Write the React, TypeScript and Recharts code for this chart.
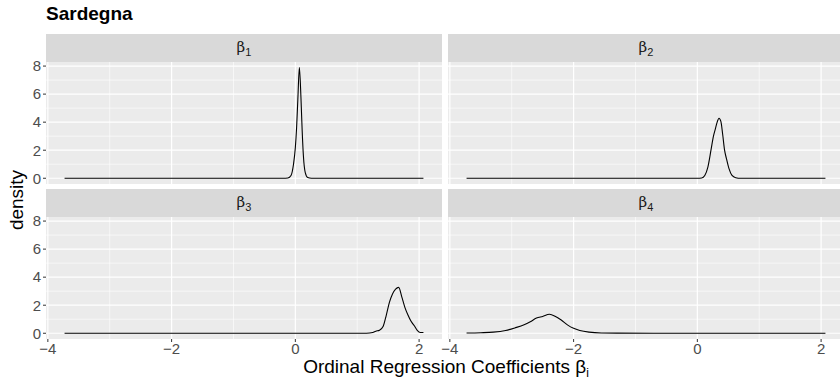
import React from "react";
import { LineChart, Line, XAxis, YAxis, CartesianGrid } from "recharts";

// density estimates of the four ordinal regression coefficients (Sardegna)
const beta1X = [-3.73, -1.0, -0.2, -0.12, -0.07, -0.03, 0.0, 0.02, 0.04, 0.065, 0.09, 0.11, 0.13, 0.16, 0.2, 0.26, 1.0, 2.07];
const beta1Y = [0, 0, 0, 0.02, 0.2, 1.0, 2.2, 3.6, 5.6, 7.9, 5.8, 3.4, 1.6, 0.4, 0.05, 0, 0, 0];

const beta2X = [-3.73, -1.0, 0.0, 0.07, 0.12, 0.17, 0.22, 0.26, 0.29, 0.32, 0.35, 0.38, 0.41, 0.44, 0.47, 0.51, 0.56, 0.62, 0.7, 1.5, 2.07];
const beta2Y = [0, 0, 0, 0.02, 0.2, 0.8, 2.0, 3.0, 3.5, 4.0, 4.28, 4.05, 3.1, 2.0, 1.4, 0.7, 0.2, 0.04, 0, 0, 0];

const beta3X = [-3.73, -1.0, 0.5, 1.15, 1.25, 1.3, 1.36, 1.42, 1.47, 1.52, 1.57, 1.62, 1.67, 1.72, 1.77, 1.82, 1.87, 1.92, 1.97, 2.02, 2.07];
const beta3Y = [0, 0, 0, 0, 0.05, 0.15, 0.22, 0.5, 1.3, 2.2, 2.8, 3.15, 3.27, 2.6, 1.85, 1.3, 0.85, 0.55, 0.2, 0.05, 0.05];

const beta4X = [-3.73, -3.5, -3.3, -3.1, -2.95, -2.8, -2.7, -2.6, -2.5, -2.39, -2.3, -2.2, -2.1, -2.0, -1.9, -1.75, -1.55, -1.3, 0.0, 2.07];
const beta4Y = [0.02, 0.04, 0.08, 0.2, 0.38, 0.6, 0.82, 1.08, 1.2, 1.35, 1.22, 0.95, 0.6, 0.35, 0.2, 0.08, 0.02, 0.01, 0, 0];

const xTicks = [-4, -2, 0, 2];
const yTicks = [0, 2, 4, 6, 8];
const xMinor = [-3, -1, 1];
const yMinor = [1, 3, 5, 7];

const X_DOMAIN: [number, number] = [-4.03, 2.37];
const Y_DOMAIN: [number, number] = [-0.41, 8.29];

const FONT = "'Liberation Sans', Arial, sans-serif";
const PANEL_W = 396;
const PANEL_H = 122;
const AXIS_W = 46;
const X_AXIS_H = 26;
const PAD = 10; // room for tick labels that sit on the panel edge

const toRows = (xs: number[], ys: number[]) => xs.map((x, i) => ({ x, y: ys[i] }));

const fmt = (v: number) => (v < 0 ? "\u2212" + Math.abs(v) : String(v));

type PanelProps = {
  data: { x: number; y: number }[];
  showX: boolean;
  showY: boolean;
};

function Panel({ data, showX, showY }: PanelProps) {
  const tickStyle = { fill: "#4D4D4D", fontSize: 15, fontFamily: FONT };
  const left = showY ? 0 : PAD;
  return (
    <LineChart
      width={PANEL_W + (showY ? AXIS_W : 0) + PAD + left}
      height={PANEL_H + (showX ? X_AXIS_H : 0) + 2 * PAD}
      data={data}
      margin={{ top: PAD, right: PAD, bottom: PAD, left }}
    >
      <CartesianGrid
        fill="#EBEBEB"
        stroke="#FFFFFF"
        strokeWidth={0.6}
        horizontalValues={yMinor}
        verticalValues={xMinor}
      />
      <CartesianGrid
        stroke="#FFFFFF"
        strokeWidth={1.2}
        horizontalValues={yTicks}
        verticalValues={xTicks}
      />
      <XAxis
        type="number"
        dataKey="x"
        domain={X_DOMAIN}
        ticks={xTicks}
        interval={0}
        allowDataOverflow
        hide={!showX}
        height={X_AXIS_H}
        tickFormatter={fmt}
        tick={tickStyle}
        axisLine={false}
        tickLine={{ stroke: "#333333" }}
        tickSize={3}
        tickMargin={1}
      />
      <YAxis
        type="number"
        dataKey="y"
        domain={Y_DOMAIN}
        ticks={yTicks}
        interval={0}
        allowDataOverflow
        hide={!showY}
        width={AXIS_W}
        tick={tickStyle}
        axisLine={false}
        tickLine={{ stroke: "#333333" }}
        tickSize={3}
        tickMargin={2}
      />
      <Line
        type="monotone"
        dataKey="y"
        stroke="#000000"
        strokeWidth={1.1}
        dot={false}
        isAnimationActive={false}
      />
    </LineChart>
  );
}

function Strip({ left, top, idx }: { left: number; top: number; idx: string }) {
  return (
    <div
      style={{
        position: "absolute",
        left,
        top,
        width: PANEL_W,
        height: 28,
        background: "#D9D9D9",
        display: "flex",
        alignItems: "center",
        justifyContent: "center",
        color: "#1A1A1A",
        fontFamily: "'DejaVu Serif', 'Liberation Serif', serif",
        fontSize: 15,
      }}
    >
      <span>
        β<sub style={{ fontSize: 11, fontFamily: FONT }}>{idx}</sub>
      </span>
    </div>
  );
}

export default function App() {
  const panels = [
    { data: toRows(beta1X, beta1Y), left: 0, top: 62, showX: false, showY: true },
    { data: toRows(beta2X, beta2Y), left: 448 - PAD, top: 62, showX: false, showY: false },
    { data: toRows(beta3X, beta3Y), left: 0, top: 217, showX: true, showY: true },
    { data: toRows(beta4X, beta4Y), left: 448 - PAD, top: 217, showX: true, showY: false },
  ];
  return (
    <div
      style={{
        position: "absolute",
        left: 0,
        top: 0,
        width: 840,
        height: 387,
        overflow: "hidden",
        background: "#FFFFFF",
        fontFamily: FONT,
      }}
    >
      <Strip left={46} top={34} idx="1" />
      <Strip left={448} top={34} idx="2" />
      <Strip left={46} top={189} idx="3" />
      <Strip left={448} top={189} idx="4" />
      {panels.map((p, i) => (
        <div key={i} style={{ position: "absolute", left: p.left, top: p.top - PAD }}>
          <Panel data={p.data} showX={p.showX} showY={p.showY} />
        </div>
      ))}
      <div style={{ position: "absolute", left: 46, top: 3, fontSize: 19, fontWeight: "bold", color: "#000" }}>
        Sardegna
      </div>
      <div
        style={{
          position: "absolute",
          left: 17,
          top: 200,
          transform: "translate(-50%, -50%) rotate(-90deg)",
          fontSize: 19,
          color: "#000",
          whiteSpace: "nowrap",
        }}
      >
        density
      </div>
      <div
        style={{
          position: "absolute",
          left: 446,
          top: 368,
          transform: "translate(-50%, -50%)",
          fontSize: 19,
          color: "#000",
          whiteSpace: "nowrap",
        }}
      >
        Ordinal Regression Coefficients β<sub style={{ fontSize: 12 }}>i</sub>
      </div>
    </div>
  );
}
